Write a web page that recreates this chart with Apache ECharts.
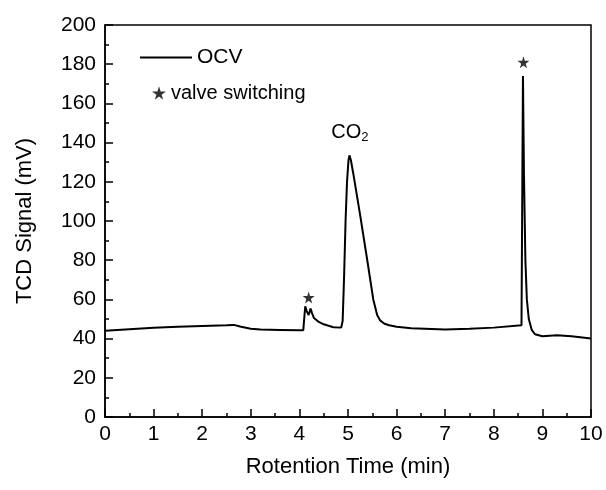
<!DOCTYPE html>
<html>
<head>
<meta charset="utf-8">
<script src="https://cdn.jsdelivr.net/npm/echarts@6/dist/echarts.min.js"></script>
<style>
  html, body { margin: 0; padding: 0; background: #fff; }
  #chart { width: 606px; height: 490px; }
</style>
</head>
<body>
<div id="chart"></div>
<script>
// retention time (min) and TCD signal (mV)
const time = [0, 0.5, 1, 1.5, 2, 2.5, 2.65, 2.8, 3.0, 3.2, 3.6, 4.0, 4.08, 4.12, 4.15, 4.19, 4.23, 4.26, 4.3, 4.4, 4.5, 4.7, 4.86,
  4.89, 4.92, 4.95, 4.98, 5.01, 5.03, 5.06, 5.11, 5.25, 5.39, 5.52, 5.6, 5.66, 5.75, 5.85, 6.0, 6.3, 7.0, 7.5, 8.0, 8.57,
  8.6, 8.62, 8.65, 8.68, 8.72, 8.78, 8.85, 9.0, 9.3, 9.6, 10];
const signal = [44, 44.8, 45.5, 46, 46.4, 46.8, 47, 46, 45, 44.6, 44.4, 44.2, 44.3, 56.5, 54, 52, 55.3, 53, 50.5, 48.5, 47.3, 45.8, 45.6,
  49, 72, 100, 120, 131, 133.5, 131, 124, 103, 81, 60, 52, 49.3, 47.6, 46.8, 46, 45.3, 44.7, 45, 45.6, 46.8,
  174, 125, 80, 60, 50, 44.5, 42.2, 41.2, 41.7, 41.2, 40];
// valve switching markers
const starTime = [4.19, 8.61];
const starSignal = [61, 181];
// CO2 peak label position
const co2Label = [5.04, 145];

const font = 'Liberation Sans, Arial, sans-serif';
const starPath = 'path://M50,0 L61,35 L98,35 L68,57 L79,91 L50,70 L21,91 L32,57 L2,35 L39,35 Z';

const chart = echarts.init(document.getElementById('chart'));
chart.setOption({
  animation: false,
  grid: { left: 105, right: 15, top: 25, bottom: 73, show: true, borderColor: '#000', borderWidth: 1.5, backgroundColor: 'transparent' },
  legend: [
    {
      data: [{ name: 'OCV', icon: 'rect' }],
      left: 135, top: 42, itemWidth: 52, itemHeight: 2, itemGap: 4,
      textStyle: { fontFamily: font, fontSize: 21, color: '#000' }
    },
    {
      data: [{ name: 'valve switching', icon: starPath }],
      left: 147, top: 78, itemWidth: 14, itemHeight: 14, itemGap: 5,
      textStyle: { fontFamily: font, fontSize: 20, color: '#000' }
    }
  ],
  xAxis: {
    type: 'value', min: 0, max: 10, interval: 1,
    name: 'Rotention Time (min)', nameLocation: 'middle', nameGap: 39,
    nameTextStyle: { fontFamily: font, fontSize: 22, color: '#000' },
    axisLine: { lineStyle: { color: '#000', width: 1.5 } },
    axisTick: { inside: true, length: 8, lineStyle: { color: '#000', width: 1.5 } },
    minorTick: { show: true, splitNumber: 2, length: 4, lineStyle: { color: '#000', width: 1.5 } },
    axisLabel: { fontFamily: font, fontSize: 21, color: '#000', margin: 7 },
    splitLine: { show: false }
  },
  yAxis: {
    type: 'value', min: 0, max: 200, interval: 20,
    name: 'TCD Signal (mV)', nameLocation: 'middle', nameGap: 69,
    nameTextStyle: { fontFamily: font, fontSize: 22, color: '#000' },
    axisLine: { show: true, lineStyle: { color: '#000', width: 1.5 } },
    axisTick: { show: true, inside: true, length: 8, lineStyle: { color: '#000', width: 1.5 } },
    minorTick: { show: true, splitNumber: 2, length: 4, lineStyle: { color: '#000', width: 1.5 } },
    axisLabel: { fontFamily: font, fontSize: 21, color: '#000', margin: 9 },
    splitLine: { show: false }
  },
  series: [
    {
      name: 'OCV', type: 'line', showSymbol: false, symbol: 'none',
      data: time.map((t, i) => [t, signal[i]]),
      lineStyle: { color: '#000', width: 2 }, itemStyle: { color: '#000' },
      markPoint: {
        symbol: 'circle', symbolSize: 0,
        data: [{ coord: co2Label }],
        label: {
          show: true, position: 'inside',
          formatter: 'CO{sub|2}',
          fontFamily: font, fontSize: 20, color: '#000',
          rich: { sub: { fontFamily: font, fontSize: 13, color: '#000', verticalAlign: 'bottom', padding: [10, 0, 0, 0] } }
        }
      }
    },
    {
      name: 'valve switching', type: 'scatter', symbol: starPath, symbolSize: 12,
      data: starTime.map((t, i) => [t, starSignal[i]]),
      itemStyle: { color: '#000' }
    }
  ]
});
</script>
</body>
</html>
